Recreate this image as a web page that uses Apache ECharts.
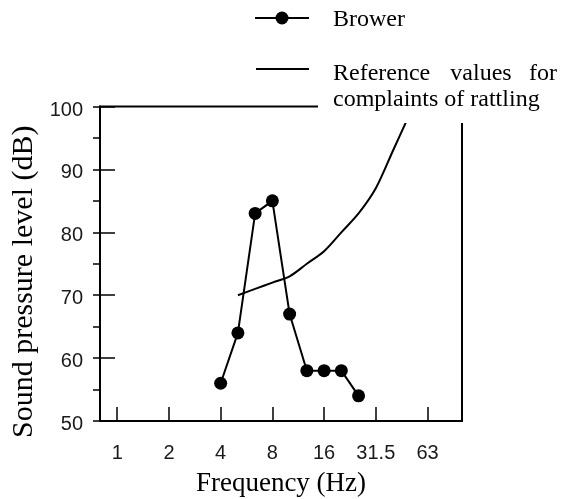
<!DOCTYPE html>
<html>
<head>
<meta charset="utf-8">
<script src="https://cdn.jsdelivr.net/npm/echarts@6/dist/echarts.min.js"></script>
<style>
html,body{margin:0;padding:0;background:#fff;}
#chart{width:571px;height:499px;}
</style>
</head>
<body>
<div id="chart"></div>
<script>
// Third-octave frequency categories (Hz) spanning the x axis
const categories = ['0.8','1','1.25','1.6','2','2.5','3.15','4','5','6.3','8','10','12.5','16','20','25','31.5','40','50','63','80','100'];
// Labelled ticks on the x axis
const xTickLabels = ['1','2','4','8','16','31.5','63'];
// Brower series
const browerName = 'Brower';
const browerFreq = ['4','5','6.3','8','10','12.5','16','20','25'];
const browerSPL = [56, 64, 83, 85, 67, 58, 58, 58, 54];
// Reference values for complaints of rattling
const refName = 'Reference values for complaints of rattling';
const refFreq = ['5','6.3','8','10','12.5','16','20','25','31.5','40','50'];
const refSPL = [70, 71, 72, 73, 75, 77, 80, 83, 87, 93, 99];
// Y axis range
const yMin = 50, yMax = 100;

const tickFont = "'Liberation Sans Narrow','Liberation Sans',sans-serif";
const serif = "'Liberation Serif','DejaVu Serif',serif";

const chart = echarts.init(document.getElementById('chart'), null, {renderer:'canvas'});
const showTick = (idx, val) => xTickLabels.indexOf(val) >= 0;

chart.setOption({
  animation: false,
  backgroundColor: '#fff',
  grid: {
    left: 100, right: 109, top: 106.5, bottom: 78,
    outerBoundsMode: 'none',
    containLabel: false,
    show: true, borderColor: '#000', borderWidth: 2, backgroundColor: 'transparent'
  },
  xAxis: {
    type: 'category',
    data: categories,
    boundaryGap: false,
    axisLine: {show: true, lineStyle: {color: '#000', width: 2}},
    axisTick: {show: true, inside: true, length: 14, interval: showTick, lineStyle: {color: '#000', width: 1.5}},
    axisLabel: {interval: showTick, margin: 22, fontFamily: tickFont, fontSize: 20, color: '#1a1a1a'},
    splitLine: {show: false},
    name: 'Frequency (Hz)',
    nameLocation: 'middle',
    nameGap: 49,
    nameTextStyle: {fontFamily: serif, fontSize: 27, color: '#000'}
  },
  yAxis: [
    {
      type: 'value', min: yMin, max: yMax, interval: 5, position: 'left',
      axisLine: {show: true, lineStyle: {color: '#000', width: 2}},
      axisTick: {show: true, inside: false, length: 7, lineStyle: {color: '#000', width: 1.5}},
      axisLabel: {
        formatter: v => (v % 10 === 0 ? '{a|' + v + '}' : ''),
        margin: 17, fontFamily: tickFont, fontSize: 20, color: '#1a1a1a',
        rich: {a: {fontFamily: tickFont, fontSize: 20, color: '#1a1a1a', padding: [7, 0, 0, 0]}}
      },
      splitLine: {show: false},
      name: 'Sound pressure level (dB)',
      nameLocation: 'middle',
      nameGap: 44,
      nameTextStyle: {fontFamily: serif, fontSize: 30, color: '#000', padding: [0, 36, 0, 0]}
    },
    {
      type: 'value', min: yMin, max: yMax, interval: 10, position: 'left',
      axisLine: {show: false},
      axisTick: {show: true, inside: true, length: 15, lineStyle: {color: '#000', width: 1.5}},
      axisLabel: {show: false},
      splitLine: {show: false}
    }
  ],
  series: [
    {
      name: refName,
      type: 'line',
      yAxisIndex: 0,
      data: refFreq.map((f, i) => [f, refSPL[i]]),
      showSymbol: false,
      symbol: 'none',
      smooth: 0.3,
      lineStyle: {color: '#000', width: 2},
      z: 2
    },
    {
      name: browerName,
      type: 'line',
      yAxisIndex: 0,
      data: browerFreq.map((f, i) => [f, browerSPL[i]]),
      symbol: 'circle',
      symbolSize: 13,
      showSymbol: true,
      showAllSymbol: true,
      itemStyle: {color: '#000'},
      lineStyle: {color: '#000', width: 2},
      z: 3
    }
  ],
  graphic: [
    {type: 'rect', z: 10, shape: {x: 318, y: 0, width: 253, height: 123}, style: {fill: '#fff'}},
    {type: 'line', z: 11, shape: {x1: 255, y1: 18, x2: 309, y2: 18}, style: {stroke: '#000', lineWidth: 2}},
    {type: 'circle', z: 11, shape: {cx: 282, cy: 18, r: 6.5}, style: {fill: '#000'}},
    {type: 'text', z: 11, x: 333, y: 20, style: {text: browerName, font: "24px 'Liberation Serif', serif", fill: '#000', align: 'left', verticalAlign: 'middle'}},
    {type: 'line', z: 11, shape: {x1: 256, y1: 69, x2: 309, y2: 69}, style: {stroke: '#000', lineWidth: 2}},
    {type: 'text', z: 11, x: 333, y: 74, style: {text: 'Reference', font: "24px 'Liberation Serif', serif", fill: '#000', align: 'left', verticalAlign: 'middle'}},
    {type: 'text', z: 11, x: 481, y: 74, style: {text: 'values', font: "24px 'Liberation Serif', serif", fill: '#000', align: 'center', verticalAlign: 'middle'}},
    {type: 'text', z: 11, x: 557, y: 74, style: {text: 'for', font: "24px 'Liberation Serif', serif", fill: '#000', align: 'right', verticalAlign: 'middle'}},
    {type: 'text', z: 11, x: 333, y: 100, style: {text: 'complaints of rattling', font: "24px 'Liberation Serif', serif", fill: '#000', align: 'left', verticalAlign: 'middle'}}
  ]
});
</script>
</body>
</html>
